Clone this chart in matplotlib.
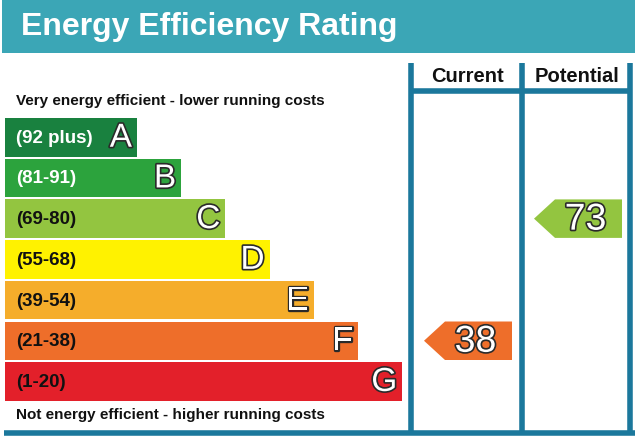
import matplotlib.pyplot as plt
from matplotlib.patches import Rectangle, Polygon
import matplotlib.patheffects as pe

plt.rcParams['font.family'] = ['Liberation Sans', 'DejaVu Sans']

# rating bands, best to worst
letters = ['A', 'B', 'C', 'D', 'E', 'F', 'G']
ranges = ['(92 plus)', '(81-91)', '(69-80)', '(55-68)', '(39-54)', '(21-38)', '(1-20)']
lower_bounds = [92, 81, 69, 55, 39, 21, 1]
band_colors = ['#19813f', '#2ca33d', '#93c540', '#fff200', '#f5ad2b', '#ee6e2a', '#e3202a']
range_text_colors = ['white', 'white', '#111111', '#111111', '#111111', '#111111', '#111111']

current = 38
potential = 73

title = 'Energy Efficiency Rating'
top_note = 'Very energy efficient - lower running costs'
bottom_note = 'Not energy efficient - higher running costs'
columns = ['Current', 'Potential']

W, H = 635, 437
fig = plt.figure(figsize=(W / 100, H / 100), dpi=100)
ax = fig.add_axes([0, 0, 1, 1])
ax.set_xlim(0, W)
ax.set_ylim(H, 0)
ax.axis('off')

line_col = '#1b789c'
outline = [pe.withStroke(linewidth=2.4, foreground='#2a2a2a')]

# header bar
ax.add_patch(Rectangle((2, 0), W - 2, 53, color='#3ba6b6', lw=0))
ax.text(21, 27, title, color='white', fontsize=23, fontweight='bold', va='center', ha='left')

# table frame
for x in [411, 522, 630]:
    ax.plot([x, x], [63, 434], color=line_col, lw=4, solid_capstyle='butt')
ax.plot([411, 632], [91, 91], color=line_col, lw=4, solid_capstyle='butt')
ax.plot([4, 635], [433, 433], color=line_col, lw=4, solid_capstyle='butt')
ax.text(467, 76, columns[0], fontsize=14.5, fontweight='bold', ha='center', va='center', color='#111111')
ax.text(577, 76, columns[1], fontsize=14.5, fontweight='bold', ha='center', va='center', color='#111111')

ax.text(16, 101, top_note, fontsize=11, fontweight='bold', va='center', color='#111111')
ax.text(16, 415, bottom_note, fontsize=11, fontweight='bold', va='center', color='#111111')

# bands
top0, pitch, band_h = 118, 40.7, 38.5
for i, (let, rng) in enumerate(zip(letters, ranges)):
    y = top0 + i * pitch
    right = 137 + i * 44.2
    ax.add_patch(Rectangle((5, y), right - 5, band_h, color=band_colors[i], lw=0))
    ax.text(16, y + band_h / 2 + 1, rng, fontsize=13.5, fontweight='bold',
            color=range_text_colors[i], va='center', ha='left')
    ax.text(right - 5, y + band_h / 2 + 1, let, fontsize=24, color='white',
            va='center', ha='right', path_effects=outline)


def band_index(score):
    for i, lb in enumerate(lower_bounds):
        if score >= lb:
            return i
    return len(lower_bounds) - 1


def arrow(score, x_tip, x_right):
    i = band_index(score)
    y = top0 + i * pitch
    ym = y + band_h / 2
    pts = [(x_tip, ym), (x_tip + 21, y), (x_right, y), (x_right, y + band_h), (x_tip + 21, y + band_h)]
    ax.add_patch(Polygon(pts, closed=True, color=band_colors[i], lw=0))
    ax.text((x_tip + 21 + x_right) / 2 - 3, ym + 1, str(score), fontsize=27, color='white',
            ha='center', va='center', path_effects=outline)


arrow(current, 424, 512)
arrow(potential, 534, 622)

fig.savefig('out.png', dpi=100)
